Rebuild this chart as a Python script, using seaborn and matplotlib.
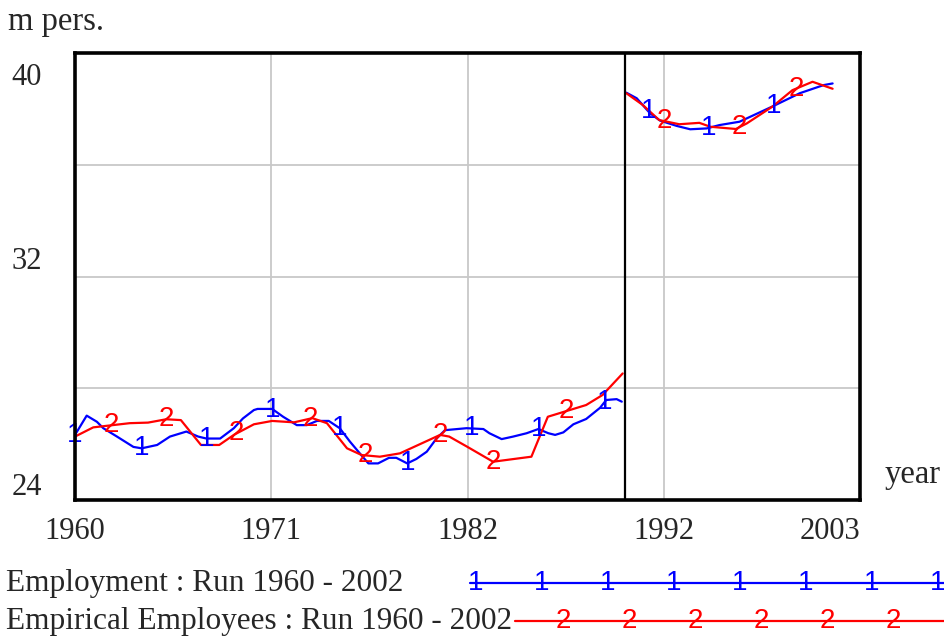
import numpy as np
import pandas as pd
import matplotlib
matplotlib.use("Agg")
import matplotlib.pyplot as plt
import seaborn as sns

# ---------------------------------------------------------
# Data (m pers.)
# ---------------------------------------------------------
# Employment (model run), before and after 1990
emp_years_a = [1960.0, 1960.64, 1961.2, 1961.55, 1962.3, 1963.2, 1963.65, 1964.5, 1965.2,
               1966.1, 1966.75, 1967.2, 1967.95, 1968.7, 1969.2, 1969.8, 1970.0, 1970.8,
               1971.4, 1972.15, 1972.7, 1973.25, 1973.9, 1974.5, 1975.06, 1975.6, 1976.07,
               1976.6, 1977.2, 1977.6, 1978.2, 1978.7, 1979.27, 1979.8, 1980.27, 1981.45,
               1982.37, 1982.7, 1983.37, 1984.0, 1984.74, 1985.38, 1985.93, 1986.3, 1986.75,
               1987.3, 1988.0, 1988.76, 1989.1, 1989.67, 1989.95]
emp_values_a = [26.33, 27.02, 26.8, 26.57, 26.27, 25.9, 25.85, 25.97, 26.27,
                26.45, 26.27, 26.2, 26.2, 26.57, 26.92, 27.22, 27.26, 27.26,
                26.98, 26.68, 26.68, 26.83, 26.83, 26.57, 26.09, 25.67, 25.31,
                25.31, 25.51, 25.51, 25.31, 25.47, 25.73, 26.2, 26.5, 26.57,
                26.54, 26.39, 26.18, 26.27, 26.39, 26.54, 26.39, 26.33, 26.42,
                26.71, 26.9, 27.3, 27.58, 27.61, 27.52]
emp_years_b = [1990.2, 1990.77, 1991.5, 1992.05, 1992.96, 1993.7, 1994.6, 1995.3,
               1996.4, 1998.25, 1999.7, 2001.0, 2001.5]
emp_values_b = [38.58, 38.38, 37.84, 37.58, 37.39, 37.27, 37.3, 37.42,
                37.54, 38.1, 38.56, 38.85, 38.91]

# Empirical employees
empl_years_a = [1960.0, 1961.0, 1963.0, 1964.0, 1965.0, 1965.8, 1966.9, 1967.9, 1968.7,
                1969.8, 1970.8, 1972.0, 1973.0, 1973.8, 1974.9, 1975.7, 1976.7, 1977.8,
                1980.0, 1980.5, 1981.5, 1982.9, 1985.0, 1985.9, 1988.0, 1988.9, 1990.0]
empl_values_a = [26.27, 26.6, 26.75, 26.77, 26.89, 26.86, 25.97, 25.97, 26.33,
                 26.71, 26.83, 26.78, 26.93, 26.75, 25.85, 25.61, 25.55, 25.67,
                 26.33, 26.27, 25.9, 25.37, 25.55, 26.98, 27.4, 27.76, 28.53]
empl_years_b = [1990.2, 1991.1, 1992.0, 1993.1, 1994.2, 1994.8, 1996.2, 1996.8,
                1998.2, 1999.3, 2000.4, 2001.5]
empl_values_b = [38.56, 38.14, 37.6, 37.45, 37.5, 37.36, 37.28, 37.48,
                 38.08, 38.67, 38.97, 38.72]

# where the "1" / "2" labels sit along each curve
emp_marker_years = [1960.0, 1963.65, 1967.2, 1970.85, 1974.5, 1978.2, 1981.7, 1985.4,
                    1989.0, 1991.4, 1994.7, 1998.25]
empl_marker_years = [1962.0, 1965.0, 1968.85, 1972.9, 1975.9, 1980.0, 1982.9, 1986.9,
                     1992.3, 1996.4, 1999.5]

x_tick_labels = ["1960", "1971", "1982", "1992", "2003"]
y_tick_labels = [24, 32, 40]
break_year = 1990.1

EMP_NAME = "Employment : Run 1960 - 2002"
EMPL_NAME = "Empirical Employees : Run 1960 - 2002"
BLUE = "#0000ff"
RED = "#ff0000"
SANS = ["Liberation Sans", "DejaVu Sans"]

# ---------------------------------------------------------
# Long table for seaborn
# ---------------------------------------------------------
frames = []
for name, seg, yrs, vals in [
    (EMP_NAME, "a", emp_years_a, emp_values_a),
    (EMP_NAME, "b", emp_years_b, emp_values_b),
    (EMPL_NAME, "a", empl_years_a, empl_values_a),
    (EMPL_NAME, "b", empl_years_b, empl_values_b),
]:
    frames.append(pd.DataFrame({"year": yrs, "value": vals, "series": name,
                                "segment": name + seg}))
df = pd.concat(frames, ignore_index=True)

sns.set_style("white")
plt.rcParams["font.family"] = ["Liberation Serif", "DejaVu Serif"]

fig = plt.figure(figsize=(9.45, 6.39), dpi=100)
ax = fig.add_axes([75 / 945, 1 - 500 / 639, 785 / 945, 447 / 639])

sns.lineplot(data=df, x="year", y="value", hue="series", units="segment",
             estimator=None, palette={EMP_NAME: BLUE, EMPL_NAME: RED},
             linewidth=1.6, legend=False, ax=ax, sort=False)

ax.axvline(break_year, color="black", linewidth=1.6, zorder=3)


def put_labels(years, yrs_segs, char, color):
    for yr in years:
        for yrs, vals in yrs_segs:
            if yrs[0] - 0.01 <= yr <= yrs[-1] + 0.01:
                v = np.interp(yr, yrs, vals)
                ax.text(yr, v, char, color=color, fontsize=20, ha="center",
                        va="center", family=SANS, zorder=4)
                break


put_labels(emp_marker_years, [(emp_years_a, emp_values_a), (emp_years_b, emp_values_b)],
           "1", BLUE)
put_labels(empl_marker_years, [(empl_years_a, empl_values_a), (empl_years_b, empl_values_b)],
           "2", RED)

ax.set_xlim(1960, 2003)
ax.set_ylim(24, 40)
x_ticks = np.linspace(1960, 2003, 5)
ax.set_xticks(x_ticks)
ax.set_xticklabels(x_tick_labels, fontsize=22)
ax.get_xticklabels()[-1].set_ha("right")
ax.set_yticks([24, 28, 32, 36, 40])
ax.set_yticklabels([])
ax.tick_params(axis="x", length=0, pad=12)
ax.tick_params(axis="y", length=0)
ax.grid(True, color="#c8c8c8", linewidth=1.3)
ax.set_xlabel("")
ax.set_ylabel("")
for sp in ax.spines.values():
    sp.set_visible(True)
    sp.set_color("black")
    sp.set_linewidth(2.6)
    sp.set_zorder(5)

# y labels sit beside (not centred on) their grid line, Vensim style
y_offsets = {24: 9.0, 32: 10.8, 40: -17.5}
for v in y_tick_labels:
    ax.annotate(str(v), xy=(0, v), xycoords=("axes fraction", "data"),
                xytext=(-45.5, y_offsets[v]), textcoords="offset points",
                ha="left", va="center", fontsize=22, annotation_clip=False)

# ---------------------------------------------------------
# Units, axis name and legend (overlay in pixel units)
# ---------------------------------------------------------
ov = fig.add_axes([0, 0, 1, 1], zorder=-1)
ov.set_xlim(0, 945)
ov.set_ylim(639, 0)
ov.axis("off")
ov.text(8, 22, "m pers.", fontsize=23.5, va="center", ha="left")
ov.text(885, 475, "year", fontsize=23.5, va="center", ha="left")

ov.text(6, 584, EMP_NAME, fontsize=22.5, va="center", ha="left")
ov.text(6, 622, EMPL_NAME, fontsize=22.5, va="center", ha="left")
ov.plot([470, 945], [583, 583], color=BLUE, linewidth=1.6)
ov.plot([515, 945], [621, 621], color=RED, linewidth=1.6)
for i in range(8):
    ov.text(476 + 66 * i, 583, "1", color=BLUE, fontsize=20, ha="center", va="center",
            family=SANS)
for i in range(6):
    ov.text(563 + 66 * i, 621, "2", color=RED, fontsize=20, ha="center", va="center",
            family=SANS)

fig.savefig("out.png", dpi=100)
